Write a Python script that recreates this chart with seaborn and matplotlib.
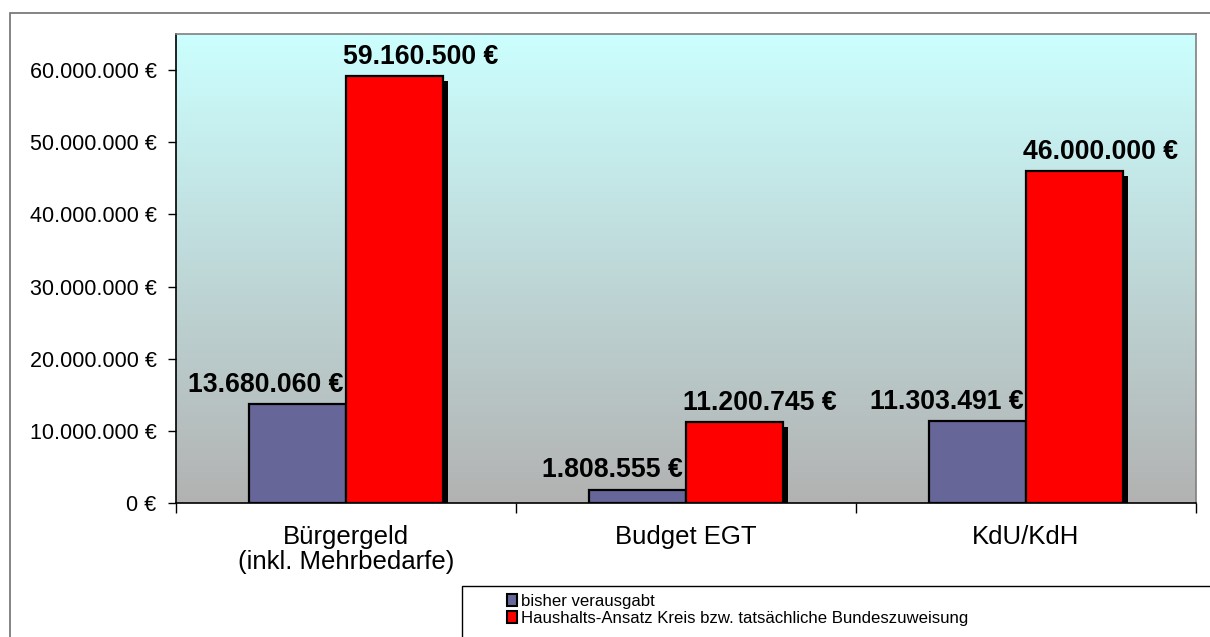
import numpy as np
import pandas as pd
import matplotlib
matplotlib.use("Agg")
import matplotlib.pyplot as plt
import matplotlib.patheffects as pe
from matplotlib.patches import Patch, Rectangle
from matplotlib.ticker import FuncFormatter, FixedLocator
from matplotlib import font_manager
import seaborn as sns

# data
categories = ["Bürgergeld\n(inkl. Mehrbedarfe)", "Budget EGT", "KdU/KdH"]
series = ["bisher verausgabt", "Haushalts-Ansatz Kreis bzw. tatsächliche Bundeszuweisung"]
spent = [13680060, 1808555, 11303491]
budget = [59160500, 11200745, 46000000]
colors = ["#666699", "#FF0000"]

df = pd.DataFrame({
    "Kategorie": categories * 2,
    "Serie": [series[0]] * 3 + [series[1]] * 3,
    "Betrag": spent + budget,
})

sns.set_style("white")
plt.rcParams["font.family"] = ["Liberation Sans", "DejaVu Sans"]
plt.rcParams["text.color"] = "black"
plt.rcParams["xtick.color"] = "black"
plt.rcParams["ytick.color"] = "black"

installed = {f.name for f in font_manager.fontManager.ttflist}
narrow = "Liberation Sans Narrow" in installed


def euro(v, pos=None):
    return f"{v:,.0f}".replace(",", ".") + " €"


fig = plt.figure(figsize=(12.1, 6.37), dpi=100)
W, H = 1210, 637
ax = fig.add_axes([176 / W, 1 - 503 / H, (1196 - 176) / W, (503 - 34) / H])

# gradient background of the plot area
grad = np.linspace(0, 1, 256).reshape(-1, 1)
top = np.array([204, 255, 255]) / 255
bot = np.array([178, 178, 178]) / 255
img = top[None, None, :] * (1 - grad[:, :, None]) + bot[None, None, :] * grad[:, :, None]
ax.imshow(img, extent=[0, 1, 0, 1], transform=ax.transAxes, aspect="auto", zorder=0)

sns.barplot(data=df, x="Kategorie", y="Betrag", hue="Serie", palette=colors,
            saturation=1, width=0.57, gap=0, edgecolor="black", linewidth=1.6,
            ax=ax, legend=False, zorder=2)

shadow = [pe.SimplePatchShadow(offset=(3.6, -3.6), shadow_rgbFace="black", alpha=1), pe.Normal()]
for i, cont in enumerate(ax.containers):
    for bar in cont:
        bar.set_path_effects(shadow)
        h = bar.get_height()
        if i == 0:
            ax.annotate(euro(h), (bar.get_x() + bar.get_width(), h), xytext=(-2, 9),
                        textcoords="offset points", ha="right", va="baseline",
                        fontsize=19.2, fontweight="bold", zorder=5)
        else:
            ax.annotate(euro(h), (bar.get_x(), h), xytext=(-2, 9),
                        textcoords="offset points", ha="left", va="baseline",
                        fontsize=19.2, fontweight="bold", zorder=5)

ax.set_xlim(-0.5, 2.5)
ax.set_ylim(0, 65_000_000)
ax.set_yticks(np.arange(0, 60_000_001, 10_000_000))
ax.yaxis.set_major_formatter(FuncFormatter(euro))
ax.tick_params(axis="y", which="major", direction="out", length=6, width=1, pad=8,
               labelsize=15.5, left=True, color="black")
ax.tick_params(axis="x", which="major", length=0, pad=16, labelsize=18.5)
ax.xaxis.set_minor_locator(FixedLocator([-0.5, 0.5, 1.5, 2.5]))
ax.tick_params(axis="x", which="minor", direction="out", length=7, width=1, bottom=True, color="black")
ax.set_xlabel("")
ax.set_ylabel("")
for lbl in ax.get_xticklabels():
    lbl.set_linespacing(1.05)

for side in ["top", "right"]:
    ax.spines[side].set_color("#808080")
    ax.spines[side].set_linewidth(1.2)
for side in ["left", "bottom"]:
    ax.spines[side].set_color("black")
    ax.spines[side].set_linewidth(1.2)

# outer chart frame and legend box
fig.patches.append(Rectangle((10 / W, -0.2), 1.2, 1.2 - 13 / H, transform=fig.transFigure,
                             fill=False, edgecolor="#707070", linewidth=1.2))
fig.patches.append(Rectangle((462 / W, -0.2), 1.0, 0.2 + 1 - 586 / H, transform=fig.transFigure,
                             fill=False, edgecolor="black", linewidth=1))

handles = [Patch(facecolor=c, edgecolor="black", linewidth=1.5) for c in colors]
leg_font = {"family": ["Liberation Sans Narrow", "Liberation Sans"], "size": 13.2} if narrow \
    else {"family": ["Liberation Sans"], "size": 12.1}
fig.legend(handles, series, loc="upper left", bbox_to_anchor=(507 / W, 1 - 594 / H),
           frameon=False, prop=leg_font, handlelength=0.6, handleheight=0.75,
           handletextpad=0.25, labelspacing=0.1, borderpad=0, borderaxespad=0)

fig.savefig("out.png", dpi=100)
